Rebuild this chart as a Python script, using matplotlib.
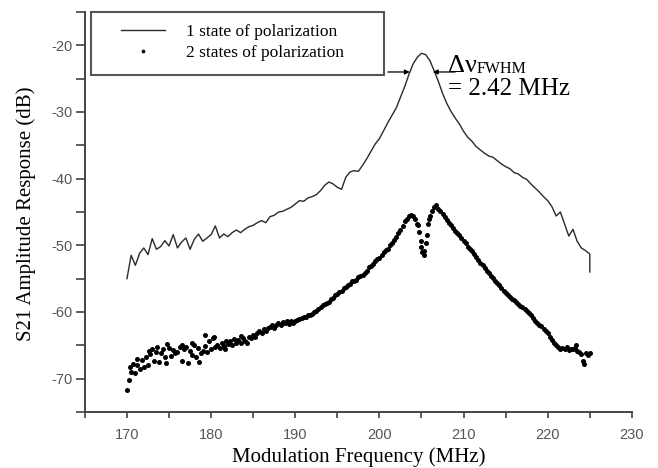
from __future__ import annotations

import matplotlib

matplotlib.use("Agg")
import matplotlib.pyplot as plt
import numpy as np
from matplotlib.patches import Rectangle


SERIF = "Liberation Serif"
SANS = "Liberation Sans"

# 1 state of polarization: values every 0.5 MHz, 170 .. 225 MHz
LINE_FREQ = np.arange(170.0, 225.001, 0.5)
LINE_DB = [
    -55.0, -51.5, -53.0, -51.2, -50.4, -51.4, -49.0, -50.6, -50.2, -49.3,
    -50.1, -48.4, -50.4, -49.5, -48.9, -50.6, -49.1, -48.3, -49.4, -48.9,
    -48.4, -47.1, -48.9, -48.3, -48.7, -48.1, -47.7, -48.1, -47.6, -47.2,
    -47.0, -46.6, -46.3, -46.6, -45.7, -45.5, -45.0, -44.9, -44.6, -44.3,
    -43.8, -43.3, -43.4, -42.9, -42.7, -42.4, -41.8, -41.0, -40.5, -40.8,
    -41.3, -41.6, -39.8, -39.0, -38.8, -38.9, -38.0, -37.0, -35.9, -34.8,
    -34.0, -32.8, -31.6, -30.5, -29.4, -27.8, -26.2, -24.4, -22.8, -21.8,
    -21.2, -21.4, -22.3, -23.8, -25.4, -27.2, -28.7, -29.9, -30.9, -31.8,
    -32.9, -33.8, -34.4, -35.2, -35.7, -36.2, -36.6, -36.8, -37.3, -37.8,
    -38.2, -38.5, -39.1, -39.3, -39.8, -40.1, -40.8, -41.4, -42.0, -42.7,
    -43.3, -44.2, -45.6, -45.0, -46.8, -48.6, -47.6, -49.4, -50.4, -50.8,
    -51.3,
]
LINE_END_FREQ = 225.0
LINE_END_DB = -54.0

# 2 states of polarization: values every 0.25 MHz, 170 .. 225 MHz
DOT_FREQ = np.arange(170.0, 225.001, 0.25)
DOT_DB = [
    -71.7, -70.2, -69.0, -67.8,
    -69.2, -68.0, -68.6, -67.2,
    -68.3, -66.8, -67.9, -66.3,
    -65.5, -67.4, -66.0, -67.5,
    -66.2, -65.6, -66.8, -64.8,
    -65.4, -66.6, -65.7, -66.2,
    -66.0, -65.2, -67.3, -65.6,
    -65.3, -67.6, -65.9, -66.4,
    -65.0, -66.7, -65.4, -66.1,
    -65.8, -65.1, -66.0, -64.4,
    -65.6, -63.9, -65.3, -64.9,
    -65.4, -64.6, -65.1, -64.3,
    -64.8, -64.4, -65.0, -64.1,
    -64.7, -64.2, -64.6, -63.9,
    -64.3, -64.6, -63.7, -63.9,
    -63.4, -63.8, -63.1, -62.9,
    -63.2, -62.6, -62.8, -62.4,
    -62.3, -62.0, -62.4, -61.9,
    -61.6, -61.9, -61.5, -61.7,
    -61.4, -61.8, -61.3, -61.6,
    -61.4, -61.2, -61.0, -60.9,
    -60.7, -60.8, -60.4, -60.5,
    -60.3, -60.0, -59.9, -59.5,
    -59.3, -59.0, -58.8, -58.6,
    -58.5, -58.1, -57.9, -57.5,
    -57.3, -57.0, -56.8, -56.4,
    -56.3, -56.0, -55.8, -55.4,
    -55.3, -55.2, -54.8, -54.6,
    -54.5, -54.1, -53.8, -53.3,
    -53.1, -52.8, -52.4, -52.0,
    -51.9, -51.5, -51.0, -50.7,
    -50.5, -50.0, -49.6, -49.2,
    -48.8, -48.2, -47.7, -47.1,
    -46.4, -46.0, -45.6, -45.5,
    -45.6, -46.0, -46.8, -48.0,
    -50.3, -51.4, -49.6, -46.8,
    -45.6, -44.8, -44.2, -44.0,
    -44.5, -44.9, -45.3, -45.8,
    -46.2, -46.6, -47.0, -47.4,
    -47.8, -48.1, -48.5, -48.9,
    -49.3, -49.7, -50.2, -50.6,
    -50.9, -51.3, -51.8, -52.2,
    -52.6, -53.0, -53.4, -53.8,
    -54.2, -54.6, -54.9, -55.3,
    -55.6, -56.0, -56.4, -56.8,
    -57.1, -57.4, -57.8, -58.0,
    -58.2, -58.5, -58.8, -59.1,
    -59.3, -59.5, -59.8, -60.2,
    -60.5, -60.9, -61.3, -61.7,
    -61.9, -62.1, -62.5, -62.9,
    -63.2, -63.7, -64.2, -64.6,
    -65.0, -65.3, -65.5, -65.4,
    -65.6, -65.3, -65.7, -65.5,
    -65.6, -65.4, -65.8, -66.0,
    -66.3, -67.4, -66.1, -66.5,
    -66.2,
]

# extra scattered dots (noisy left part, dip walls, right tail)
EXTRA_FREQ = [
    170.4, 171.2, 172.6, 173.6, 174.6, 176.6, 177.7, 178.6, 179.3, 180.4,
    181.6, 183.6, 204.6, 204.9, 205.1, 205.35, 205.6, 205.9, 223.4, 224.3,
]
EXTRA_DB = [
    -68.2, -67.0, -65.8, -65.2, -67.6, -64.9, -64.6, -67.5, -63.4, -63.7,
    -65.6, -63.6, -47.0, -49.3, -51.0, -50.8, -48.4, -46.0, -65.0, -67.8,
]

X_TICKS = [170, 180, 190, 200, 210, 220, 230]
Y_TICKS = [-70, -60, -50, -40, -30, -20]


def main() -> None:
    assert len(LINE_DB) == len(LINE_FREQ)
    assert len(DOT_DB) == len(DOT_FREQ)
    assert len(EXTRA_DB) == len(EXTRA_FREQ)

    plt.rcParams["axes.unicode_minus"] = False

    fig = plt.figure(figsize=(6.58, 4.68), dpi=100)
    ax = fig.add_axes([0.129, 0.1197, 0.8313, 0.8547])

    line_x = np.append(LINE_FREQ, LINE_END_FREQ)
    line_y = np.append(LINE_DB, LINE_END_DB)
    ax.plot(line_x, line_y, color="#2a2a2a", lw=1.0, label="1 state of polarization")

    ax.plot(DOT_FREQ, DOT_DB, ls="none", marker="o", ms=3.6, color="black",
            mec="none", label="2 states of polarization")
    ax.plot(EXTRA_FREQ, EXTRA_DB, ls="none", marker="o", ms=3.6, color="black", mec="none")

    ax.set_xlim(165, 230)
    ax.set_ylim(-75, -15)
    ax.set_xticks(X_TICKS)
    ax.set_yticks(Y_TICKS)
    ax.set_xticks(np.arange(165, 231, 5), minor=True)
    ax.set_yticks(np.arange(-75, -14, 5), minor=True)

    for side in ("top", "right"):
        ax.spines[side].set_visible(False)
    for side in ("left", "bottom"):
        ax.spines[side].set_color("#444444")
        ax.spines[side].set_linewidth(1.4)

    ax.tick_params(which="both", color="#444444", width=1.2, direction="out")
    ax.tick_params(axis="x", which="both", length=4.5, pad=7)
    ax.tick_params(axis="y", which="both", length=6.5, pad=2)
    for lab in ax.get_xticklabels() + ax.get_yticklabels():
        lab.set_fontfamily(SANS)
        lab.set_fontsize(10.5)
        lab.set_color("#555555")

    ax.set_xlabel("Modulation Frequency (MHz)", fontfamily=SERIF, fontsize=15)
    ax.set_ylabel("S21 Amplitude Response (dB)", fontfamily=SERIF, fontsize=15)
    ax.xaxis.set_label_coords(0.5, -0.087)
    ax.yaxis.set_label_coords(-0.09, 0.495)

    # FWHM annotation
    arrow = dict(arrowstyle="-|>", color="black", lw=0.9, mutation_scale=7,
                 shrinkA=0, shrinkB=0)
    ax.annotate("", xy=(203.6, -24.0), xytext=(201.0, -24.0), arrowprops=arrow)
    ax.annotate("", xy=(206.35, -24.0), xytext=(209.0, -24.0), arrowprops=arrow)
    ax.text(208.1, -24.05, "\u0394\u03bd", fontfamily=SERIF, fontsize=19, va="baseline")
    ax.text(211.5, -24.2, "FWHM", fontfamily=SERIF, fontsize=11.5, va="baseline")
    ax.text(208.1, -27.5, "= 2.42 MHz", fontfamily=SERIF, fontsize=18, va="baseline")

    # legend box drawn separately so its size matches the original
    ax.add_patch(Rectangle((0.011, 0.8425), 0.5356, 0.1575, transform=ax.transAxes,
                           fill=False, edgecolor="#555555", lw=1.5, clip_on=False))
    ax.legend(loc="upper left", bbox_to_anchor=(0.051, 0.992), frameon=False,
              borderpad=0, handlelength=2.5, handletextpad=1.2, labelspacing=0.3,
              markerscale=0.75, prop={"family": SERIF, "size": 12.5})

    fig.savefig("out.png", dpi=100)
    plt.close(fig)


if __name__ == "__main__":
    main()
